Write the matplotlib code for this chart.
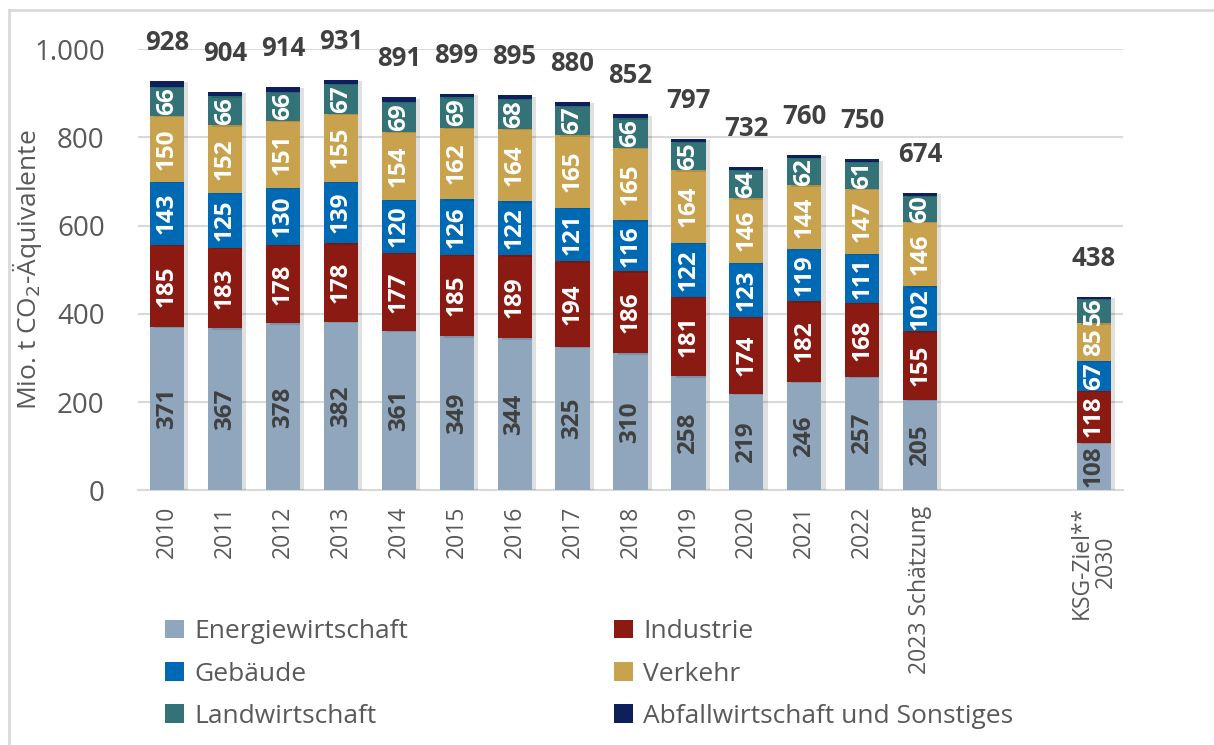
import numpy as np
import matplotlib
matplotlib.use("Agg")
import matplotlib.pyplot as plt
from matplotlib.lines import Line2D
from matplotlib.patches import Patch
import matplotlib.patheffects as pe

plt.rcParams['font.family'] = ['Open Sans', 'DejaVu Sans']

# Daten (Mio. t CO2-Äquivalente)
jahre = ['2010', '2011', '2012', '2013', '2014', '2015', '2016', '2017', '2018',
         '2019', '2020', '2021', '2022', '2023 Schätzung', 'KSG-Ziel**\n2030']
energie = [371, 367, 378, 382, 361, 349, 344, 325, 310, 258, 219, 246, 257, 205, 108]
industrie = [185, 183, 178, 178, 177, 185, 189, 194, 186, 181, 174, 182, 168, 155, 118]
gebaeude = [143, 125, 130, 139, 120, 126, 122, 121, 116, 122, 123, 119, 111, 102, 67]
verkehr = [150, 152, 151, 155, 154, 162, 164, 165, 165, 164, 146, 144, 147, 146, 85]
landwirtschaft = [66, 66, 66, 67, 69, 69, 68, 67, 66, 65, 64, 62, 61, 60, 56]
abfall = [13, 11, 11, 10, 10, 8, 8, 8, 9, 7, 6, 7, 6, 6, 4]
gesamt = [928, 904, 914, 931, 891, 899, 895, 880, 852, 797, 732, 760, 750, 674, 438]

sektoren = ['Energiewirtschaft', 'Industrie', 'Gebäude', 'Verkehr',
            'Landwirtschaft', 'Abfallwirtschaft und Sonstiges']
werte = [energie, industrie, gebaeude, verkehr, landwirtschaft, abfall]
farben = ['#8FA6BC', '#8B1A13', '#0069B4', '#C9A24E', '#337378', '#0D1F5C']
textfarben = ['#404040', 'white', 'white', 'white', 'white', None]

# Positionen: zwei leere Plätze vor dem Zielwert 2030
x = np.arange(len(jahre), dtype=float)
x[-1] += 2

fig = plt.figure(figsize=(12.14, 7.45), dpi=100)
ax = fig.add_axes([0.1137, 0.342, 0.8113, 0.592])

schatten = [pe.SimplePatchShadow(offset=(3, -1), shadow_rgbFace='#000000', alpha=0.12), pe.Normal()]
unten = np.zeros(len(jahre))
for name, vals, farbe, tf in zip(sektoren, werte, farben, textfarben):
    vals = np.array(vals, dtype=float)
    bars = ax.bar(x, vals, width=0.59, bottom=unten, color=farbe, zorder=3)
    for b in bars:
        b.set_path_effects(schatten)
    if tf is not None:
        for xi, v, u in zip(x, vals, unten):
            ax.text(xi, u + v / 2, f'{int(v)}', rotation=90, ha='center', va='center',
                    color=tf, fontsize=17.5, fontweight='bold', zorder=4)
    unten += vals

for xi, g in zip(x, gesamt):
    ax.annotate(f'{g}', (xi, g), xytext=(0, 18), textcoords='offset points',
                ha='center', va='bottom', fontsize=18.5, fontweight='bold',
                color='#404040', annotation_clip=False)

ax.set_xlim(-0.5, 16.5)
ax.set_ylim(0, 1000)
ax.set_yticks([0, 200, 400, 600, 800, 1000])
ax.set_yticklabels(['0', '200', '400', '600', '800', '1.000'])
ax.set_xticks(x)
ax.set_xticklabels(jahre, rotation=90, ha='center', va='top', multialignment='center',
                   linespacing=1.0)
ax.tick_params(axis='y', length=0, pad=24, labelsize=20, labelcolor='#595959')
ax.tick_params(axis='x', length=0, pad=11, labelsize=16.5, labelcolor='#595959')
ax.grid(axis='y', color='#D9D9D9', linewidth=1.5, zorder=0)
for s in ['top', 'right', 'left']:
    ax.spines[s].set_visible(False)
ax.spines['bottom'].set_color('#D9D9D9')
ax.spines['bottom'].set_linewidth(1.5)
ax.set_ylabel('Mio. t CO$_2$-Äquivalente', fontsize=19, color='#595959')
ax.yaxis.set_label_coords(-0.095, 0.5)

# Legende in zwei Spalten
h = [Patch(facecolor=c) for c in farben]
leg_kw = dict(frameon=False, fontsize=19, labelcolor='#595959', handlelength=0.7,
              handleheight=0.7, handletextpad=0.4, labelspacing=0.66, loc='upper left',
              borderaxespad=0, borderpad=0)
fig.legend([h[0], h[2], h[4]], [sektoren[0], sektoren[2], sektoren[4]],
           bbox_to_anchor=(0.136, 0.169), **leg_kw)
fig.legend([h[1], h[3], h[5]], [sektoren[1], sektoren[3], sektoren[5]],
           bbox_to_anchor=(0.506, 0.169), **leg_kw)

# Rahmen
fig.add_artist(Line2D([0.0074, 0.0074], [0, 0.9866], color='#D9D9D9', linewidth=2))
fig.add_artist(Line2D([0.0074, 1], [0.9866, 0.9866], color='#D9D9D9', linewidth=2))

fig.savefig('out.png', dpi=100)
